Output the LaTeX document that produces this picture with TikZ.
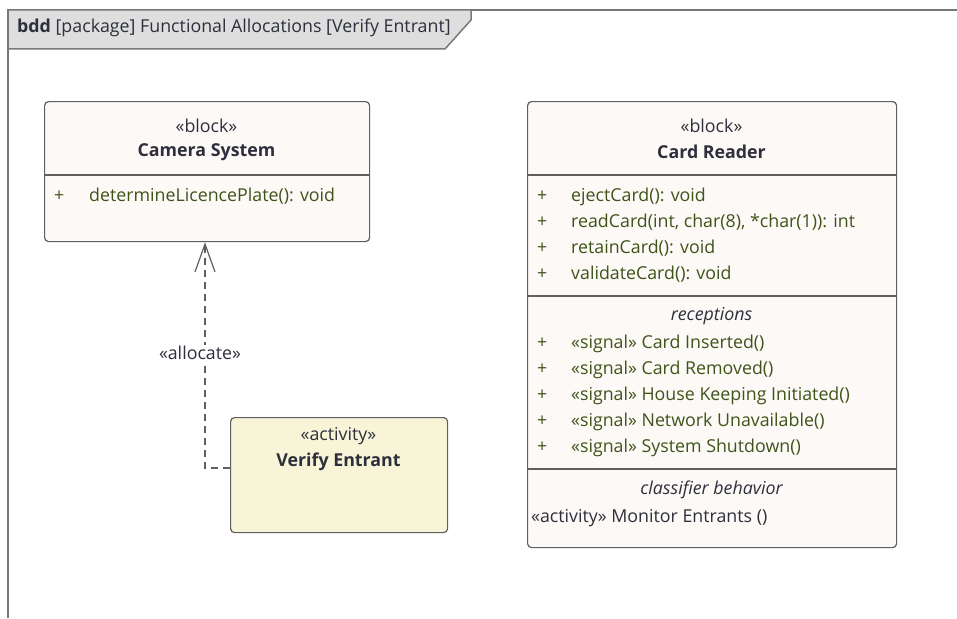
\documentclass[tikz,border=0pt]{standalone}
\usepackage{fontspec}
\setmainfont{Open Sans}
\usetikzlibrary{arrows.meta}
\definecolor{framegray}{RGB}{120,120,120}
\definecolor{tabfill}{RGB}{222,222,222}
\definecolor{boxgray}{RGB}{95,95,95}
\definecolor{blockfill}{RGB}{253,249,246}
\definecolor{actfill}{RGB}{248,244,216}
\definecolor{attrgreen}{RGB}{62,84,26}
\definecolor{namedark}{RGB}{45,48,60}
\tikzset{
  blockbox/.style={draw=boxgray, line width=1.2pt, fill=blockfill, rounded corners=4pt, anchor=north west},
  actbox/.style={blockbox, fill=actfill},
  divider/.style={draw=boxgray, line width=1.2pt},
  txt/.style={inner sep=0pt, text=namedark, font=\fontsize{17.8}{20}\selectfont},
  stereo/.style={txt},
  blockname/.style={txt, font=\fontsize{17.8}{20}\selectfont\bfseries},
  attr/.style={txt, text=attrgreen, anchor=base west},
  allocline/.style={draw=boxgray, line width=1.2pt, dash pattern=on 7pt off 5pt}
}
\begin{document}
\begin{tikzpicture}[x=1pt, y=-1pt]
    \useasboundingbox (0,0) rectangle (957,618);
    % Diagram frame and title tab
    \draw[framegray, line width=1.5pt] (8,618) -- (8,10) -- (957,10);
    \draw[framegray, line width=1.5pt, fill=tabfill] (8,10) -- (471,10) -- (471,20) -- (445,49) -- (8,49) -- cycle;
    \node[txt, anchor=base west] (title) at (17,33) {\textbf{bdd} [package] Functional Allocations [Verify Entrant]};

    % Camera System
    \node[blockbox, minimum width=325pt, minimum height=140pt] (camera) at (44,101) {};
    \draw[divider] (44,175) -- (369,175);
    \node[stereo] (camst) at (206.5,126) {«block»};
    \node[blockname] (camname) at (206.5,152) {Camera System};
    \node[attr] (camplus) at (54,201) {+};
    \node[attr] (camop) at (89,201) {determineLicencePlate(): void};

    % Card Reader
    \node[blockbox, minimum width=369pt, minimum height=446pt] (card) at (527,101) {};
    \draw[divider] (527,175) -- (896,175);
    \draw[divider] (527,296) -- (896,296);
    \draw[divider] (527,469) -- (896,469);
    \node[stereo] (cardst) at (711.5,126) {«block»};
    \node[blockname] (cardname) at (711.5,152) {Card Reader};
    \foreach \y/\op in {201/{ejectCard(): void},
                        227/{readCard(int, char(8), *char(1)): int},
                        253/{retainCard(): void},
                        279/{validateCard(): void}} {
        \node[attr] at (537,\y) {+};
        \node[attr] at (571,\y) {\op};
    }
    \node[stereo, font=\fontsize{17.8}{20}\selectfont\itshape] (recep) at (711.5,316) {receptions};
    \foreach \y/\sig in {348/{Card Inserted()},
                         374/{Card Removed()},
                         400/{House Keeping Initiated()},
                         426/{Network Unavailable()},
                         452/{System Shutdown()}} {
        \node[attr] at (537,\y) {+};
        \node[attr] at (571,\y) {«signal» \sig};
    }
    \node[stereo, font=\fontsize{17.8}{20}\selectfont\itshape] (classif) at (711.5,490) {classifier behavior};
    \node[txt, anchor=base west] (monitor) at (531,522) {«activity» Monitor Entrants ()};

    % Verify Entrant
    \node[actbox, minimum width=217pt, minimum height=115pt] (verify) at (230,417) {};
    \node[stereo] (verst) at (338.5,436) {«activity»};
    \node[blockname] (vername) at (338.5,462) {Verify Entrant};

    % Allocation
    \coordinate (bend) at (205,468);
    \draw[allocline, -{Straight Barb[length=28pt, width=20pt, line width=1.2pt]}]
        (verify.west |- bend) -- (bend) -- (camera.south -| bend);
    \node[txt, fill=white, inner sep=1pt] (alloc) at (200,353) {«allocate»};
\end{tikzpicture}
\end{document}
